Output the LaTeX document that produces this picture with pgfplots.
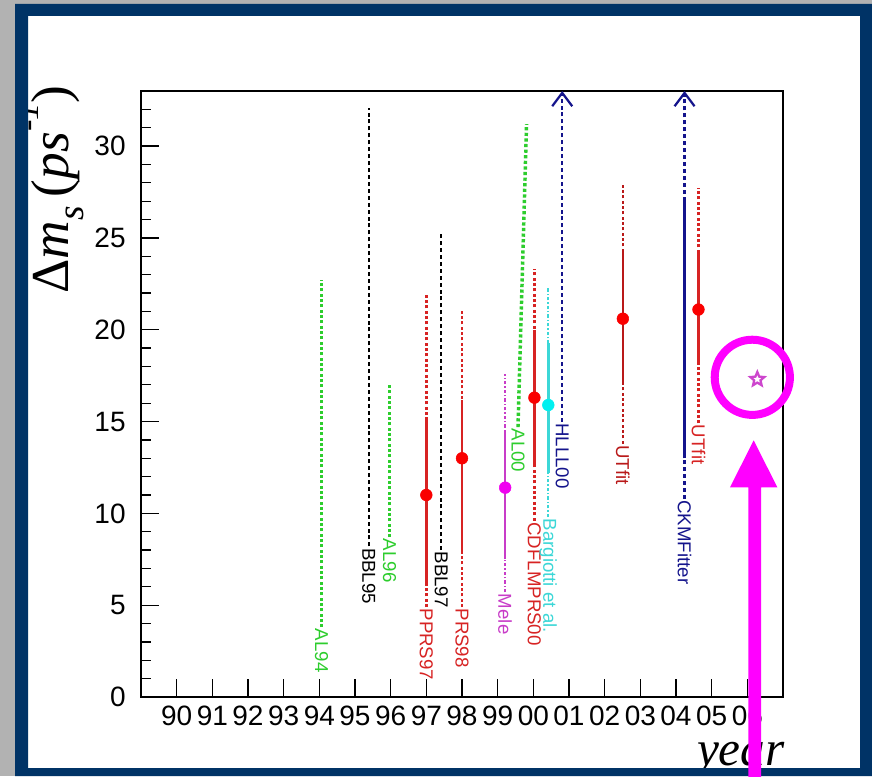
\documentclass[border=0pt]{standalone}
\usepackage{fontspec}
\setmainfont{Liberation Sans}
\newfontfamily\tms{Liberation Serif}
\usepackage{pgfplots}
\pgfplotsset{compat=1.18}
\usetikzlibrary{arrows.meta}

\definecolor{slidegray}{RGB}{178,178,178}
\definecolor{frameblue}{RGB}{0,51,102}
\definecolor{algreen}{RGB}{45,205,45}
\definecolor{lred}{RGB}{215,35,35}
\definecolor{dred}{RGB}{185,25,25}
\definecolor{mred}{RGB}{250,0,0}
\definecolor{mele}{RGB}{200,60,200}
\definecolor{melemk}{RGB}{240,0,240}
\definecolor{cyanl}{RGB}{60,215,215}
\definecolor{cyanmk}{RGB}{0,240,240}
\definecolor{navy}{RGB}{20,20,140}
\definecolor{annot}{RGB}{255,0,255}
\definecolor{starc}{RGB}{205,70,205}

% five-pointed outlined star
\pgfdeclareplotmark{fivestar}{%
  \pgfpathmoveto{\pgfqpointpolar{90}{\pgfplotmarksize}}%
  \pgfpathlineto{\pgfqpointpolar{126}{0.45\pgfplotmarksize}}%
  \pgfpathlineto{\pgfqpointpolar{162}{\pgfplotmarksize}}%
  \pgfpathlineto{\pgfqpointpolar{198}{0.45\pgfplotmarksize}}%
  \pgfpathlineto{\pgfqpointpolar{234}{\pgfplotmarksize}}%
  \pgfpathlineto{\pgfqpointpolar{270}{0.45\pgfplotmarksize}}%
  \pgfpathlineto{\pgfqpointpolar{306}{\pgfplotmarksize}}%
  \pgfpathlineto{\pgfqpointpolar{342}{0.45\pgfplotmarksize}}%
  \pgfpathlineto{\pgfqpointpolar{18}{\pgfplotmarksize}}%
  \pgfpathlineto{\pgfqpointpolar{54}{0.45\pgfplotmarksize}}%
  \pgfpathclose
  \pgfusepathqfillstroke}

\tikzset{
  fine dots/.style={line width=1.8pt, dash pattern=on 2.2pt off 1.8pt},
  bbl/.style={black, line width=1.7pt, dash pattern=on 3pt off 2.2pt},
  navydash/.style={navy, line width=1.7pt, dash pattern=on 3pt off 2.2pt},
  dashdotted line/.style={line width=1.7pt, dash pattern=on 2.5pt off 1.5pt on 1pt off 1.5pt},
  solidpart/.style={line width=2pt},
  lab/.style={rotate=-90, anchor=west, inner sep=1pt, font=\fontsize{14}{14}\selectfont},
  dot/.style={only marks, mark=*, mark size=4.4pt},
}

\begin{document}
\begin{tikzpicture}
\useasboundingbox (0,0) rectangle (654pt,582pt);
% slide background and frame
\fill[slidegray] (0,0) rectangle (654pt,582pt);
\fill[frameblue] (11.25pt,0) rectangle (654pt,579pt);
\fill[white] (21pt,6pt) rectangle (645pt,570pt);

\begin{axis}[
  at={(105.75pt,59.25pt)}, anchor=south west,
  width=481.5pt, height=454.5pt, scale only axis,
  xmin=89, xmax=107, ymin=0, ymax=33,
  clip=false,
  axis line style={black, line width=0.9pt},
  tick pos=left, tick align=inside,
  major tick length=13.5pt, minor tick length=7.5pt,
  tick style={black, line width=0.9pt},
  xtick={90,...,106},
  xticklabels={90,91,92,93,94,95,96,97,98,99,00,01,02,03,04,05,06},
  ytick={0,5,...,30},
  minor ytick={0,...,33},
  /pgf/number format/assume math mode=true,
  tick label style={font=\fontsize{21}{21}\selectfont},
  xticklabel shift=3pt,
  yticklabel shift=8pt,
]
% AL94
\addplot[algreen, fine dots] coordinates {(94.06,3.8) (94.06,22.7)};
\node[lab, text=algreen] at (axis cs:94.06,3.8) {AL94};
% BBL95
\addplot[bbl] coordinates {(95.39,8.2) (95.39,32.1)};
\node[lab, text=black] at (axis cs:95.39,8.2) {BBL95};
% AL96
\addplot[algreen, fine dots] coordinates {(95.97,8.7) (95.97,17.0)};
\node[lab, text=algreen] at (axis cs:95.97,8.7) {AL96};
% PPRS97
\addplot[lred, fine dots] coordinates {(97.0,4.9) (97.0,22.0)};
\addplot[lred, solidpart] coordinates {(97.0,6.2) (97.0,15.2)};
\addplot[dot, mred] coordinates {(97.0,11.0)};
\node[lab, text=lred] at (axis cs:97.0,4.9) {PPRS97};
% BBL97
\addplot[bbl] coordinates {(97.42,8.0) (97.42,25.2)};
\node[lab, text=black] at (axis cs:97.42,8.0) {BBL97};
% PRS98
\addplot[lred, fine dots] coordinates {(98.0,4.9) (98.0,21.0)};
\addplot[lred, solidpart] coordinates {(98.0,7.9) (98.0,16.2)};
\addplot[dot, mred] coordinates {(98.0,13.0)};
\node[lab, text=lred] at (axis cs:98.0,4.9) {PRS98};
% Mele
\addplot[mele, dashdotted line] coordinates {(99.21,5.7) (99.21,17.6)};
\addplot[mele, solidpart] coordinates {(99.21,7.5) (99.21,14.5)};
\addplot[dot, melemk] coordinates {(99.21,11.4)};
\node[lab, text=mele] at (axis cs:99.21,5.7) {Mele};
% AL00
\addplot[algreen, line width=2.6pt, dash pattern=on 2.4pt off 1.8pt] coordinates {(99.57,14.7) (99.81,31.2)};
\node[lab, text=algreen] at (axis cs:99.57,14.7) {AL00};
% CDFLMPRS00
\addplot[lred, fine dots] coordinates {(100.03,9.6) (100.03,23.3)};
\addplot[lred, solidpart] coordinates {(100.03,12.7) (100.03,20.0)};
\addplot[dot, mred] coordinates {(100.03,16.3)};
\node[lab, text=lred] at (axis cs:100.03,9.6) {CDFLMPRS00};
% Bargiotti et al.
\addplot[cyanl, dashdotted line] coordinates {(100.42,9.8) (100.42,22.3)};
\addplot[cyanl, solidpart] coordinates {(100.42,12.2) (100.42,19.3)};
\addplot[dot, cyanmk] coordinates {(100.42,15.9)};
\node[lab, text=cyanl] at (axis cs:100.42,9.8) {Bargiotti et al.};
% HLLL00 (lower bound)
\addplot[navydash, -{Straight Barb[length=10pt, width=15pt]}] coordinates {(100.81,15.0) (100.81,33.0)};
\node[lab, text=navy] at (axis cs:100.81,15.0) {HLLL00};
% UTfit 2002
\addplot[dred, fine dots] coordinates {(102.51,13.8) (102.51,28.0)};
\addplot[dred, solidpart] coordinates {(102.51,17.1) (102.51,24.3)};
\addplot[dot, mred] coordinates {(102.51,20.6)};
\node[lab, text=dred] at (axis cs:102.51,13.8) {UTfit};
% CKMFitter
\addplot[navydash, -{Straight Barb[length=10pt, width=15pt]}] coordinates {(104.24,10.8) (104.24,33.0)};
\addplot[navy, solidpart] coordinates {(104.24,13.0) (104.24,27.2)};
\node[lab, text=navy] at (axis cs:104.24,10.8) {CKMFitter};
% UTfit 2004
\addplot[lred, fine dots] coordinates {(104.63,14.9) (104.63,27.7)};
\addplot[lred, solidpart] coordinates {(104.63,18.2) (104.63,24.3)};
\addplot[dot, mred] coordinates {(104.63,21.1)};
\node[lab, text=lred] at (axis cs:104.63,14.9) {UTfit};
% measurement
\addplot[only marks, mark=fivestar, mark size=5.5pt,
  mark options={draw=starc, fill=white, line width=1.7pt}] coordinates {(106.28,17.3)};

\coordinate (starpt) at (axis cs:106.28,17.3);
\coordinate (tl) at (rel axis cs:0,1);
\coordinate (br) at (rel axis cs:1,0);
\end{axis}

% axis titles
\node[rotate=90, anchor=south east, inner sep=0pt, font=\tms\fontsize{40}{40}\selectfont]
  at ([xshift=-43pt, yshift=4.5pt]tl)
  {Δ\textit{m}\raisebox{-0.28em}{\fontsize{28}{28}\selectfont\textit{s}}\,(\textit{ps}\raisebox{0.55em}{\fontsize{26}{26}\selectfont\textit{-1}})};
\node[anchor=base east, inner sep=0pt, font=\tms\itshape\fontsize{37}{37}\selectfont]
  at ([xshift=1.5pt, yshift=-51pt]br) {year};

% frame border over everything near the edge
\fill[frameblue, even odd rule] (11.25pt,0) rectangle (654pt,579pt) (21pt,6pt) rectangle (645pt,570pt);

% highlight of the latest value
\begin{scope}[shift={(starpt)}]
  \draw[annot, line width=6pt] (-3.75pt,1.5pt) circle[radius=28.2pt];
  \fill[annot] (-2.7pt,-45.75pt) -- (15pt,-81pt) -- (2.8pt,-81pt) -- (2.8pt,-330pt)
    -- (-6.75pt,-330pt) -- (-6.75pt,-81pt) -- (-20.5pt,-81pt) -- cycle;
\end{scope}
\end{tikzpicture}
\end{document}
